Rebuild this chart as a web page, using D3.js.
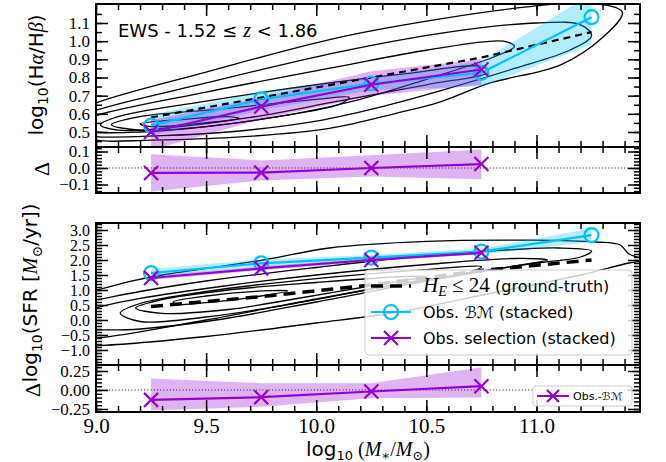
<!DOCTYPE html>
<html>
<head>
<meta charset="utf-8">
<script src="https://cdn.jsdelivr.net/npm/d3@7"></script>
<style>
    body { margin: 0; background: #fff; }
    svg { display: block; }
</style>
</head>
<body>
<div id="chart"></div>
<script>
// ---- data ----
const massBins = [9.25, 9.75, 10.25, 10.75, 11.25];
const selBins = [9.25, 9.75, 10.25, 10.75];

// log10(Halpha/Hbeta)
const balmerTruth = [0.58, 0.69, 0.80, 0.91, 1.05];
const balmerBM = [0.535, 0.68, 0.767, 0.826, 1.132];
const balmerBMLo = [0.48, 0.62, 0.73, 0.75, 0.98];
const balmerBMHi = [0.595, 0.72, 0.80, 0.89, 1.26];
const balmerSel = [0.50, 0.64, 0.76, 0.844];
const balmerSelLo = [0.40, 0.57, 0.70, 0.76];
const balmerSelHi = [0.565, 0.69, 0.835, 0.90];
const balmerDelta = [-0.03, -0.028, 0.0, 0.024];
const balmerDeltaLo = [-0.142, -0.075, -0.052, -0.068];
const balmerDeltaHi = [0.084, 0.046, 0.078, 0.112];

// log10(SFR)
const sfrTruth = [0.45, 0.78, 1.17, 1.65, 2.0];
const sfrBM = [1.56, 1.89, 2.08, 2.28, 2.83];
const sfrBMLo = [1.45, 1.77, 2.0, 2.18, 2.6];
const sfrBMHi = [1.70, 2.02, 2.17, 2.38, 3.05];
const sfrSel = [1.40, 1.72, 2.0, 2.24];
const sfrSelLo = [1.34, 1.66, 1.95, 2.19];
const sfrSelHi = [1.47, 1.78, 2.05, 2.30];
const sfrDelta = [-0.13, -0.095, -0.02, 0.05];
const sfrDeltaLo = [-0.27, -0.22, -0.11, -0.10];
const sfrDeltaHi = [0.15, 0.09, 0.09, 0.30];

// density contours of the ground-truth sample, traced as [logM, value] rings
const balmerContours = [
    [[8.9,0.60],[9.0,0.66],[9.5,0.83],[10.1,1.02],[10.6,1.13],[10.97,1.19],[11.23,1.21],[11.39,1.16],[11.30,1.02],[11.11,0.87],[10.79,0.77],[10.56,0.665],[10.37,0.605],[10.06,0.52],[9.62,0.47],[9.25,0.455],[9.0,0.455],[8.9,0.5]],
    [[8.9,0.57],[9.0,0.62],[9.5,0.77],[10.1,0.94],[10.6,1.05],[11.0,1.10],[11.2,1.09],[11.25,1.03],[11.15,0.95],[10.9,0.85],[10.6,0.74],[10.3,0.64],[10.0,0.56],[9.6,0.50],[9.3,0.48],[9.0,0.475],[8.9,0.5]],
    [[8.95,0.56],[9.0,0.59],[9.5,0.72],[10.1,0.86],[10.5,0.95],[10.85,1.0],[10.9,0.97],[10.8,0.91],[10.5,0.79],[10.2,0.68],[9.9,0.60],[9.5,0.53],[9.2,0.50],[9.0,0.50],[8.95,0.52]],
    [[9.02,0.54],[9.1,0.585],[9.5,0.67],[10.0,0.76],[10.4,0.82],[10.75,0.86],[10.78,0.83],[10.5,0.76],[10.1,0.67],[9.7,0.58],[9.3,0.52],[9.1,0.51]],
    [[9.07,0.54],[9.2,0.585],[9.6,0.63],[10.0,0.68],[10.15,0.69],[10.1,0.65],[9.8,0.58],[9.5,0.53],[9.2,0.51]],
    [[9.2,0.545],[9.4,0.57],[9.6,0.585],[9.65,0.575],[9.45,0.545],[9.25,0.53]]
];
const sfrContours = [
    [[8.9,0.9],[9.0,1.0],[9.15,1.28],[9.3,1.5],[9.76,2.0],[10.06,2.4],[10.5,2.62],[10.97,2.66],[11.27,2.6],[11.38,2.5],[11.42,2.2],[11.5,2.0],[11.42,1.9],[11.2,1.5],[10.8,0.9],[10.36,0.25],[10.0,-0.1],[9.5,-0.55],[9.0,-0.85],[8.9,-0.8]],
    [[8.9,0.55],[9.0,0.67],[9.2,0.95],[9.5,1.3],[10.0,1.75],[10.5,2.15],[10.9,2.35],[11.1,2.4],[11.25,2.3],[11.2,2.1],[11.0,1.9],[10.5,1.35],[10.0,0.7],[9.5,0.0],[9.0,-0.6],[8.9,-0.55]],
    [[8.95,0.25],[9.0,0.4],[9.2,0.72],[9.6,1.15],[10.0,1.5],[10.5,1.85],[10.9,2.05],[11.05,2.0],[10.9,1.8],[10.5,1.3],[10.0,0.6],[9.5,-0.05],[9.1,-0.33],[8.95,-0.2]],
    [[9.11,0.23],[9.2,0.55],[9.5,0.95],[10.0,1.38],[10.5,1.68],[10.75,1.78],[10.7,1.6],[10.3,1.1],[9.9,0.55],[9.5,0.1],[9.2,-0.05]],
    [[9.18,0.4],[9.3,0.68],[9.6,1.0],[10.0,1.25],[10.4,1.45],[10.5,1.45],[10.3,1.2],[9.9,0.7],[9.6,0.35],[9.3,0.22]],
    [[9.35,0.6],[9.5,0.8],[9.8,0.98],[9.87,0.97],[9.75,0.8],[9.5,0.58],[9.38,0.52]]
];

// ticks
const xMajor = [9.0, 9.5, 10.0, 10.5, 11.0];
const xMinor = d3.range(9.0, 11.45, 0.1);
const balmerTicks = [0.5, 0.6, 0.7, 0.8, 0.9, 1.0, 1.1];
const balmerMinor = d3.range(0.45, 1.2, 0.05);
const balmerDeltaTicks = [-0.1, 0.0, 0.1];
const balmerDeltaMinor = d3.range(-0.14, 0.13, 0.02);
const sfrTicks = [-1.0, -0.5, 0.0, 0.5, 1.0, 1.5, 2.0, 2.5, 3.0];
const sfrMinor = d3.range(-1.5, 3.21, 0.1);
const sfrDeltaTicks = [-0.25, 0.0, 0.25];
const sfrDeltaMinor = d3.range(-0.25, 0.33, 0.05);

// ---- layout ----
const width = 666, height = 462;
const cyan = '#00bfff', purple = '#9400d3';
const serif = '"Liberation Serif", "DejaVu Serif", serif';
const sans = '"DejaVu Sans", sans-serif';

const svg = d3.select('#chart').append('svg')
    .attr('width', width)
    .attr('height', height);

const x = d3.scaleLinear().domain([9.0, 11.47]).range([96, 640]);

const panels = [
    {id: 'balmer', top: 4, bottom: 147, domain: [0.4174, 1.2046], ticks: balmerTicks, minor: balmerMinor, fmt: d3.format('.1f'), fs: 17},
    {id: 'balmerDelta', top: 147, bottom: 193, domain: [-0.1515, 0.1273], ticks: balmerDeltaTicks, minor: balmerDeltaMinor, fmt: d3.format('.1f'), fs: 17},
    {id: 'sfr', top: 223, bottom: 365, domain: [-1.5, 3.2333], ticks: sfrTicks, minor: sfrMinor, fmt: d3.format('.1f'), fs: 16},
    {id: 'sfrDelta', top: 365, bottom: 412, domain: [-0.2895, 0.3289], ticks: sfrDeltaTicks, minor: sfrDeltaMinor, fmt: d3.format('.2f'), fs: 17}
];

panels.forEach(p => {
    p.y = d3.scaleLinear().domain(p.domain).range([p.bottom, p.top]);
    p.g = svg.append('g').attr('class', 'panel-' + p.id);
    svg.append('clipPath').attr('id', 'clip-' + p.id)
        .append('rect')
        .attr('x', 96).attr('y', p.top)
        .attr('width', 544).attr('height', p.bottom - p.top);
    p.plot = p.g.append('g').attr('clip-path', `url(#clip-${p.id})`);
});

const [pB, pBD, pS, pSD] = panels;

function drawContours(p, rings) {
    const line = d3.line()
        .x(d => x(d[0]))
        .y(d => p.y(d[1]))
        .curve(d3.curveCatmullRomClosed.alpha(0.5));
    p.plot.selectAll('.contour')
        .data(rings)
        .enter()
        .append('path')
        .attr('class', 'contour')
        .attr('d', line)
        .attr('fill', 'none')
        .attr('stroke', '#000')
        .attr('stroke-width', 1.3);
}

function drawBand(p, xs, lo, hi, color) {
    const area = d3.area()
        .x((d, i) => x(xs[i]))
        .y0((d, i) => p.y(lo[i]))
        .y1((d, i) => p.y(hi[i]));
    p.plot.append('path')
        .attr('d', area(xs))
        .attr('fill', color)
        .attr('fill-opacity', 0.3);
}

function drawSeries(p, xs, ys, color, marker) {
    const line = d3.line().x((d, i) => x(xs[i])).y(d => p.y(d));
    p.plot.append('path')
        .attr('d', line(ys))
        .attr('fill', 'none')
        .attr('stroke', color)
        .attr('stroke-width', 2.2);
    ys.forEach((v, i) => drawMarker(p.plot, x(xs[i]), p.y(v), color, marker, 7));
}

function drawMarker(g, cx, cy, color, marker, r) {
    if (marker === 'o') {
        g.append('circle')
            .attr('cx', cx).attr('cy', cy).attr('r', r)
            .attr('fill', 'none')
            .attr('stroke', color)
            .attr('stroke-width', 2.2);
    } else {
        g.append('path')
            .attr('d', `M${cx - r},${cy - r}L${cx + r},${cy + r}M${cx - r},${cy + r}L${cx + r},${cy - r}`)
            .attr('stroke', color)
            .attr('stroke-width', 2.2);
    }
}

function drawTruth(p, ys, w, dash) {
    const line = d3.line().x((d, i) => x(massBins[i])).y(d => p.y(d));
    p.plot.append('path')
        .attr('d', line(ys))
        .attr('fill', 'none')
        .attr('stroke', '#000')
        .attr('stroke-width', w)
        .attr('stroke-dasharray', dash);
}

function zeroLine(p) {
    p.plot.append('line')
        .attr('x1', 96).attr('x2', 640)
        .attr('y1', p.y(0)).attr('y2', p.y(0))
        .attr('stroke', '#333')
        .attr('stroke-width', 1)
        .attr('stroke-dasharray', '1.2,2');
}

function styleAxis(sel) {
    sel.select('.domain').remove();
    sel.selectAll('.tick line').attr('stroke', '#000').attr('stroke-width', 1.5);
}

function drawFrame(p, xLabels) {
    const g = p.g;
    // x ticks, bottom and top, inward
    [[d3.axisBottom, p.bottom], [d3.axisTop, p.top]].forEach(([ax, pos]) => {
        g.append('g').attr('transform', `translate(0,${pos})`)
            .call(ax(x).tickValues(xMinor).tickSize(-6).tickFormat(''))
            .call(styleAxis);
        const major = g.append('g').attr('transform', `translate(0,${pos})`)
            .call(ax(x).tickValues(xMajor).tickSize(-12).tickPadding(6)
                .tickFormat(xLabels && ax === d3.axisBottom ? d3.format('.1f') : ''))
            .call(styleAxis);
        major.selectAll('text')
            .attr('font-family', serif)
            .attr('font-size', 21)
            .attr('fill', '#000');
    });
    // y ticks, left and right, inward
    [[d3.axisLeft, 96], [d3.axisRight, 640]].forEach(([ax, pos]) => {
        g.append('g').attr('transform', `translate(${pos},0)`)
            .call(ax(p.y).tickValues(p.minor).tickSize(-6).tickFormat(''))
            .call(styleAxis);
        const major = g.append('g').attr('transform', `translate(${pos},0)`)
            .call(ax(p.y).tickValues(p.ticks).tickSize(-12).tickPadding(6)
                .tickFormat(ax === d3.axisLeft ? p.fmt : ''))
            .call(styleAxis);
        major.selectAll('text')
            .attr('font-family', serif)
            .attr('font-size', p.fs)
            .attr('fill', '#000');
    });
    g.append('rect')
        .attr('x', 96).attr('y', p.top)
        .attr('width', 544).attr('height', p.bottom - p.top)
        .attr('fill', 'none')
        .attr('stroke', '#000')
        .attr('stroke-width', 2);
}

// ---- Balmer decrement panel ----
drawContours(pB, balmerContours);
drawBand(pB, massBins, balmerBMLo, balmerBMHi, cyan);
drawBand(pB, selBins, balmerSelLo, balmerSelHi, purple);
drawTruth(pB, balmerTruth, 2.2, '7,5');
drawSeries(pB, massBins, balmerBM, cyan, 'o');
drawSeries(pB, selBins, balmerSel, purple, 'x');

pB.g.append('text')
    .attr('x', 118).attr('y', 37)
    .attr('font-family', sans)
    .attr('font-size', 18)
    .call(t => {
        t.append('tspan').text('EWS - 1.52 \u2264 ');
        t.append('tspan').attr('font-family', serif).attr('font-style', 'italic').attr('font-size', 20).text('z');
        t.append('tspan').text(' < 1.86');
    });

// ---- Balmer residuals ----
zeroLine(pBD);
drawBand(pBD, selBins, balmerDeltaLo, balmerDeltaHi, purple);
drawSeries(pBD, selBins, balmerDelta, purple, 'x');

// ---- SFR panel ----
drawContours(pS, sfrContours);
drawBand(pS, massBins, sfrBMLo, sfrBMHi, cyan);
drawBand(pS, selBins, sfrSelLo, sfrSelHi, purple);
drawTruth(pS, sfrTruth, 3.5, '12,7');
drawSeries(pS, massBins, sfrBM, cyan, 'o');
drawSeries(pS, selBins, sfrSel, purple, 'x');

// ---- SFR residuals ----
zeroLine(pSD);
drawBand(pSD, selBins, sfrDeltaLo, sfrDeltaHi, purple);
drawSeries(pSD, selBins, sfrDelta, purple, 'x');

panels.forEach((p, i) => drawFrame(p, i === 3));

// ---- legends ----
const legend = svg.append('g').attr('class', 'legend');
legend.append('rect')
    .attr('x', 365).attr('y', 270)
    .attr('width', 267).attr('height', 85)
    .attr('rx', 4)
    .attr('fill', '#fff').attr('fill-opacity', 0.8)
    .attr('stroke', '#ccc').attr('stroke-width', 1);

legend.append('line')
    .attr('x1', 371).attr('x2', 411).attr('y1', 286).attr('y2', 286)
    .attr('stroke', '#000').attr('stroke-width', 3.5).attr('stroke-dasharray', '12,7');
legend.append('text')
    .attr('x', 423).attr('y', 292)
    .attr('font-family', sans).attr('font-size', 16)
    .call(t => {
        t.append('tspan').attr('font-family', serif).attr('font-style', 'italic').attr('font-size', 21).text('H');
        t.append('tspan').attr('font-family', serif).attr('font-style', 'italic').attr('font-size', 14).attr('dy', 4).text('E');
        t.append('tspan').attr('font-family', serif).attr('font-size', 21).attr('dy', -4).text(' \u2264 24 ');
        t.append('tspan').text('(ground-truth)');
    });

legend.append('line')
    .attr('x1', 371).attr('x2', 411).attr('y1', 312).attr('y2', 312)
    .attr('stroke', cyan).attr('stroke-width', 2.2);
drawMarker(legend, 391, 312, cyan, 'o', 7);
legend.append('text')
    .attr('x', 423).attr('y', 318)
    .attr('font-family', sans).attr('font-size', 16)
    .text('Obs. \u212C\u2133 (stacked)');

legend.append('line')
    .attr('x1', 371).attr('x2', 411).attr('y1', 338).attr('y2', 338)
    .attr('stroke', purple).attr('stroke-width', 2.2);
drawMarker(legend, 391, 338, purple, 'x', 7);
legend.append('text')
    .attr('x', 423).attr('y', 344)
    .attr('font-family', sans).attr('font-size', 16)
    .text('Obs. selection (stacked)');

const legend2 = svg.append('g').attr('class', 'legend-delta');
legend2.append('rect')
    .attr('x', 533).attr('y', 386)
    .attr('width', 99).attr('height', 20)
    .attr('rx', 3)
    .attr('fill', '#fff').attr('fill-opacity', 0.8)
    .attr('stroke', '#ccc').attr('stroke-width', 1);
legend2.append('line')
    .attr('x1', 537).attr('x2', 569).attr('y1', 396).attr('y2', 396)
    .attr('stroke', purple).attr('stroke-width', 2);
drawMarker(legend2, 553, 396, purple, 'x', 6);
legend2.append('text')
    .attr('x', 573).attr('y', 400)
    .attr('font-family', sans).attr('font-size', 11)
    .text('Obs.-\u212C\u2133');

// ---- axis labels ----
function ylabel(cx, cy, build) {
    svg.append('text')
        .attr('transform', `translate(${cx},${cy}) rotate(-90)`)
        .attr('text-anchor', 'middle')
        .attr('font-family', sans)
        .attr('font-size', 20)
        .call(build);
}

ylabel(43, 75, t => {
    t.append('tspan').text('log');
    t.append('tspan').attr('font-size', 14).attr('dy', 5).text('10');
    t.append('tspan').attr('dy', -5).text('(H');
    t.append('tspan').attr('font-family', serif).attr('font-style', 'italic').text('\u03B1');
    t.append('tspan').text('/H');
    t.append('tspan').attr('font-family', serif).attr('font-style', 'italic').text('\u03B2');
    t.append('tspan').text(')');
});
ylabel(49, 169, t => t.append('tspan').attr('font-family', serif).attr('font-size', 22).text('\u0394'));
ylabel(37, 293, t => {
    t.append('tspan').text('log');
    t.append('tspan').attr('font-size', 14).attr('dy', 5).text('10');
    t.append('tspan').attr('dy', -5).text('(SFR [');
    t.append('tspan').attr('font-family', serif).attr('font-style', 'italic').text('M');
    t.append('tspan').attr('font-family', serif).attr('font-size', 14).attr('dy', 5).text('\u2299');
    t.append('tspan').attr('dy', -5).text('/yr])');
});
ylabel(40, 390, t => t.append('tspan').attr('font-family', serif).attr('font-size', 22).text('\u0394'));

svg.append('text')
    .attr('x', 368).attr('y', 456)
    .attr('text-anchor', 'middle')
    .attr('font-family', sans)
    .attr('font-size', 20)
    .call(t => {
        t.append('tspan').text('log');
        t.append('tspan').attr('font-size', 13).attr('dy', 4).text('10');
        t.append('tspan').attr('dy', -4).attr('font-family', serif).text(' (');
        t.append('tspan').attr('font-family', serif).attr('font-style', 'italic').text('M');
        t.append('tspan').attr('font-family', serif).attr('font-size', 13).attr('dy', 4).text('\u2217');
        t.append('tspan').attr('font-family', serif).attr('dy', -4).text('/');
        t.append('tspan').attr('font-family', serif).attr('font-style', 'italic').text('M');
        t.append('tspan').attr('font-family', serif).attr('font-size', 13).attr('dy', 4).text('\u2299');
        t.append('tspan').attr('font-family', serif).attr('dy', -4).text(')');
    });
</script>
</body>
</html>
